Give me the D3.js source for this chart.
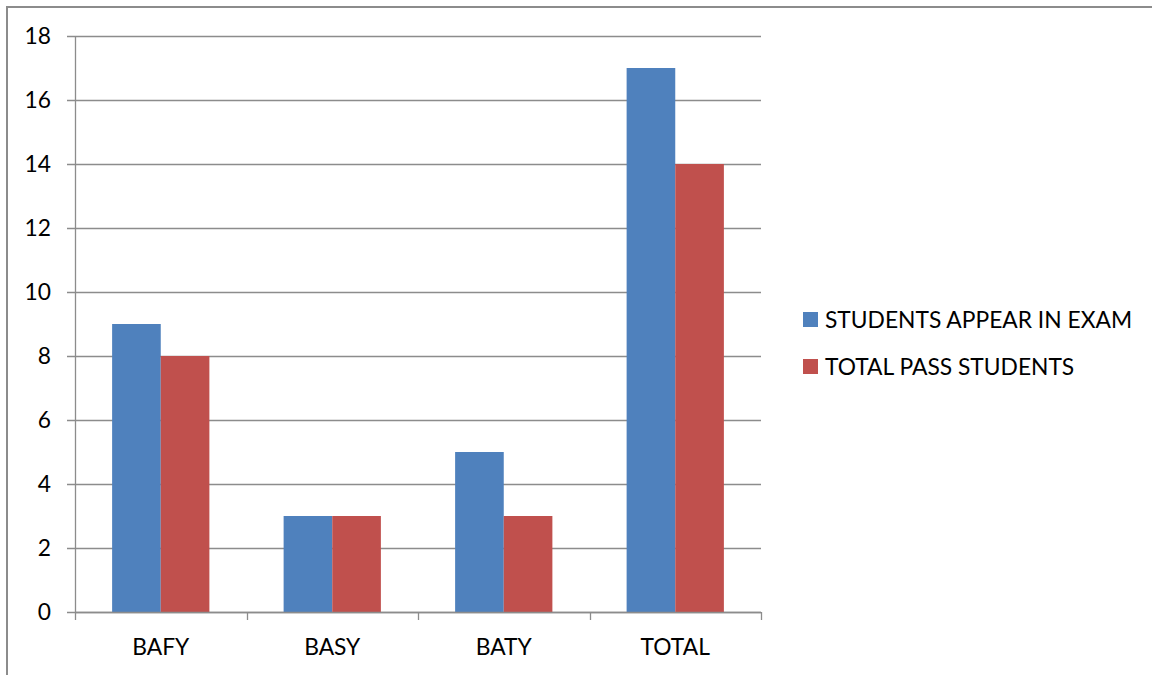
<!DOCTYPE html>
<html>
<head>
<meta charset="utf-8">
<script src="https://cdn.jsdelivr.net/npm/d3@7"></script>
<style>
  body { margin: 0; background: #fff; }
  svg { display: block; font-family: Lato, "Open Sans", sans-serif; }
</style>
</head>
<body>
<script>
// chart data
var categories = ["BAFY", "BASY", "BATY", "TOTAL"];
var seriesNames = ["STUDENTS APPEAR IN EXAM", "TOTAL PASS STUDENTS"];
var appear = [9, 3, 5, 17];
var pass = [8, 3, 3, 14];
var yTicks = [0, 2, 4, 6, 8, 10, 12, 14, 16, 18];
var colors = ["#4F81BD", "#C0504D"];

var W = 1152, H = 675;
var margin = {top: 36, left: 75, right: 391, bottom: 63};
var width = W - margin.left - margin.right,
    height = H - margin.top - margin.bottom;
var fontSize = 22.8;

var svg = d3.select("body").append("svg")
    .attr("width", W)
    .attr("height", H);

// outer chart border
svg.append("rect")
    .attr("x", 7).attr("y", 7)
    .attr("width", W + 10).attr("height", H + 10)
    .attr("fill", "none")
    .attr("stroke", "#8c8c8c")
    .attr("stroke-width", 2);

var g = svg.append("g")
    .attr("transform", "translate(" + margin.left + "," + margin.top + ")");

var x = d3.scaleBand()
    .domain(categories)
    .range([0, width]);

var x1 = d3.scaleBand()
    .domain([0, 1])
    .range([0, x.bandwidth()])
    .paddingOuter(0.7632);

var y = d3.scaleLinear()
    .domain([0, 18])
    .range([height, 0]);

// gridlines
g.selectAll(".grid")
    .data(yTicks)
    .enter().append("line")
    .attr("x1", -8)
    .attr("x2", width)
    .attr("y1", function(d) { return Math.round(y(d)) + 0.5; })
    .attr("y2", function(d) { return Math.round(y(d)) + 0.5; })
    .attr("stroke", "#8c8c8c")
    .attr("stroke-width", 1.3);

// y axis line
g.append("line")
    .attr("x1", 0.5).attr("x2", 0.5)
    .attr("y1", 0).attr("y2", height)
    .attr("stroke", "#8c8c8c")
    .attr("stroke-width", 1.3);

// y tick labels
g.selectAll(".ylab")
    .data(yTicks)
    .enter().append("text")
    .attr("x", -24)
    .attr("y", function(d) { return y(d); })
    .attr("dy", "0.35em")
    .attr("text-anchor", "end")
    .attr("font-size", fontSize)
    .attr("fill", "#000")
    .text(function(d) { return d; });

// bars
var rows = categories.map(function(c, i) { return {cat: c, vals: [appear[i], pass[i]]}; });

var groups = g.selectAll(".cat")
    .data(rows)
    .enter().append("g")
    .attr("transform", function(d) { return "translate(" + x(d.cat) + ",0)"; });

groups.selectAll("rect")
    .data(function(d) { return d.vals; })
    .enter().append("rect")
    .attr("x", function(d, i) { return x1(i); })
    .attr("width", x1.bandwidth())
    .attr("y", function(d) { return y(d); })
    .attr("height", function(d) { return height - y(d); })
    .attr("fill", function(d, i) { return colors[i]; });

// x axis
var xAxis = g.append("g")
    .attr("transform", "translate(0," + height + ")");

xAxis.append("line")
    .attr("x1", 0).attr("x2", width)
    .attr("y1", 0.5).attr("y2", 0.5)
    .attr("stroke", "#8c8c8c")
    .attr("stroke-width", 1.3);

var bounds = categories.map(function(c) { return x(c); }).concat([width]);
xAxis.selectAll(".xtick")
    .data(bounds)
    .enter().append("line")
    .attr("x1", function(d) { return Math.round(d) + 0.5; })
    .attr("x2", function(d) { return Math.round(d) + 0.5; })
    .attr("y1", 0).attr("y2", 8)
    .attr("stroke", "#8c8c8c")
    .attr("stroke-width", 1.3);

xAxis.selectAll(".xlab")
    .data(categories)
    .enter().append("text")
    .attr("x", function(d) { return x(d) + x.bandwidth() / 2; })
    .attr("y", 43)
    .attr("text-anchor", "middle")
    .attr("font-size", fontSize)
    .attr("fill", "#000")
    .text(function(d) { return d; });

// legend
var legend = svg.append("g")
    .attr("transform", "translate(803,312)");

var items = legend.selectAll(".item")
    .data(seriesNames)
    .enter().append("g")
    .attr("transform", function(d, i) { return "translate(0," + (i * 47) + ")"; });

items.append("rect")
    .attr("width", 15).attr("height", 15)
    .attr("fill", function(d, i) { return colors[i]; });

items.append("text")
    .attr("x", 22)
    .attr("y", 8)
    .attr("dy", "0.35em")
    .attr("font-size", fontSize)
    .attr("fill", "#000")
    .text(function(d) { return d; });
</script>
</body>
</html>
